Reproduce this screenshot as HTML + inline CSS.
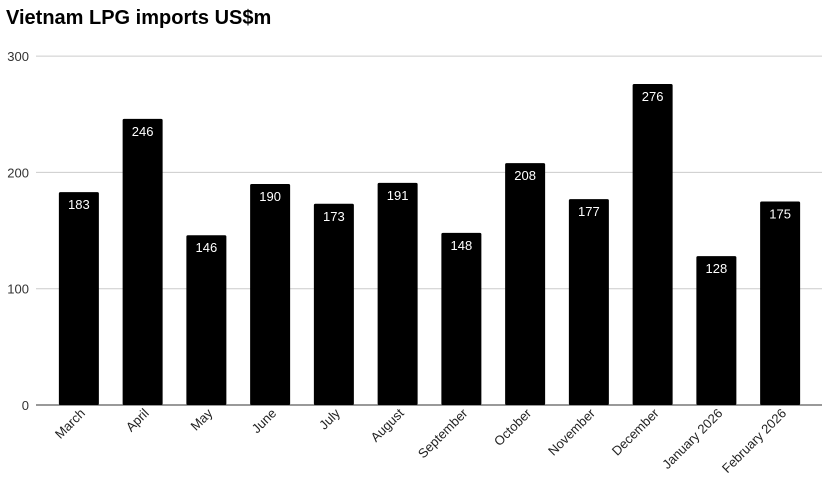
<!DOCTYPE html>
<html><head><meta charset="utf-8"><style>
body{margin:0;background:#fff;font-family:"Liberation Sans",Arial,sans-serif}
</style></head><body>
<svg id="c" width="838" height="497" xmlns="http://www.w3.org/2000/svg">
<text x="6" y="24" font-size="20" font-weight="bold" fill="#000">Vietnam LPG imports US$m</text>
<g id="grid"></g><g id="bars"></g><g id="xl"></g>
</svg>
<script>
const categories=["March","April","May","June","July","August","September","October","November","December","January 2026","February 2026"];
const values=[183,246,146,190,173,191,148,208,177,276,128,175];
const yTicks=[0,100,200,300];
const NS="http://www.w3.org/2000/svg";
const x0=47,step=63.75,bw=40,yb=405,pxPer=116.3/100;
const y=v=>yb-v*pxPer;const xc=i=>x0+step*(i+0.5);
function mk(t,a,p){const e=document.createElementNS(NS,t);for(const k in a)e.setAttribute(k,a[k]);p.appendChild(e);return e;}
const g=document.getElementById('grid'),b=document.getElementById('bars'),xl=document.getElementById('xl');
yTicks.forEach(t=>{
 const l=mk('line',{x1:36,x2:822,y1:y(t),y2:y(t),stroke:t===0?'#333':'#ccc','stroke-width':1},g);
 
 
 const tx=mk('text',{x:29,y:y(t)+5,'text-anchor':'end','font-size':13,fill:'#333'},g);tx.textContent=t;
 
 
});
values.forEach((v,i)=>{
 const r=mk('rect',{x:xc(i)-bw/2,y:y(v),width:bw,height:v*pxPer,fill:'#000',rx:1.5},b);
 
 
 const t=mk('text',{x:xc(i),y:y(v)+17,'text-anchor':'middle','font-size':13,fill:'#fff'},b);t.textContent=v;
 
 
 const xt=mk('text',{x:xc(i)+7,y:414,'text-anchor':'end','font-size':13,fill:'#222',transform:`rotate(-45 ${xc(i)+7} 414)`},xl);xt.textContent=categories[i];
 
 
});
</script>
</body></html>
